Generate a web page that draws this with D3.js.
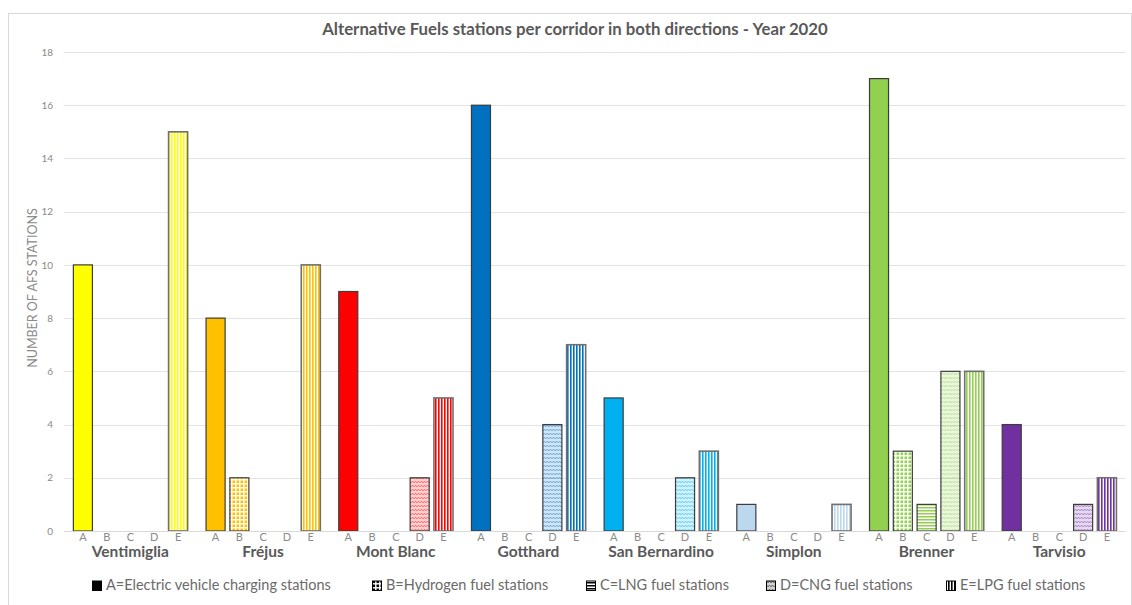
<!DOCTYPE html>
<html><head><meta charset="utf-8">
<script src="https://cdn.jsdelivr.net/npm/d3@7"></script>
<style>body{margin:0;background:#fff}svg{display:block;font-family:Lato,"Open Sans",sans-serif}</style>
</head><body><svg id="c" width="1132" height="605"></svg>
<script>
const corridors = ["Ventimiglia","Fréjus","Mont Blanc","Gotthard","San Bernardino","Simplon","Brenner","Tarvisio"];
const letters = ["A","B","C","D","E"];
const colors = ["#FFFF00","#FFC000","#FF0000","#0070C0","#00B0F0","#BDD7EE","#92D050","#7030A0"];
const valA = [10,8,9,16,5,1,17,4];
const valB = [0,2,0,0,0,0,3,0];
const valC = [0,0,0,0,0,0,1,0];
const valD = [0,0,2,4,2,0,6,1];
const valE = [15,10,5,7,3,1,6,2];
const yTicks = [0,2,4,6,8,10,12,14,16,18];
const legendLabels = ["A=Electric vehicle charging stations","B=Hydrogen fuel stations","C=LNG fuel stations","D=CNG fuel stations","E=LPG fuel stations"];
const title = "Alternative Fuels stations per corridor in both directions - Year 2020";
const yTitle = "NUMBER OF AFS STATIONS";

const svg = d3.select("#c");
const defs = svg.append("defs");

function makePatterns(id, col, light) {
  let p = defs.append("pattern").attr("id", id+"B").attr("patternUnits","userSpaceOnUse").attr("width",4).attr("height",4);
  p.append("rect").attr("width",4).attr("height",4).attr("fill","#fff");
  p.append("rect").attr("x",0.5).attr("y",0.5).attr("width",2.6).attr("height",2.6).attr("fill",col);
  p = defs.append("pattern").attr("id", id+"C").attr("patternUnits","userSpaceOnUse").attr("width",4).attr("height",3);
  p.append("rect").attr("width",4).attr("height",3).attr("fill","#fff");
  p.append("rect").attr("y",0).attr("width",4).attr("height",1.5).attr("fill",col);
  p = defs.append("pattern").attr("id", id+"D").attr("patternUnits","userSpaceOnUse").attr("width",6).attr("height",4);
  p.append("rect").attr("width",6).attr("height",4).attr("fill",col).attr("fill-opacity",light?0.3:0.18);
  p.append("path").attr("d","M0,3 L1.5,1 L3,3 L4.5,1 L6,3").attr("fill","none").attr("stroke",col).attr("stroke-opacity",light?0.9:0.55).attr("stroke-width",0.8);
  p = defs.append("pattern").attr("id", id+"E").attr("patternUnits","userSpaceOnUse").attr("width",3).attr("height",4);
  p.append("rect").attr("width",3).attr("height",4).attr("fill","#fff");
  p.append("rect").attr("x",0).attr("width",1.6).attr("height",4).attr("fill",col);
}
colors.forEach((c,i)=>makePatterns("p"+i, c, i===5 || i===0));
makePatterns("lg", "#000", false);

svg.append("rect").attr("x",8.5).attr("y",13.5).attr("width",1123).attr("height",600)
  .attr("fill","none").attr("stroke","#d9d9d9");

const x0 = d3.scaleBand().domain(corridors).range([64,1125.5]);
const x1 = d3.scaleBand().domain(letters).range([7,126]).paddingInner(0.2).paddingOuter(0.1);
const y = d3.scaleLinear().domain([0,18]).range([531,52]);

svg.append("g").selectAll("line").data(yTicks).join("line")
  .attr("x1",64).attr("x2",1125.5).attr("y1",d=>Math.round(y(d))+0.5).attr("y2",d=>Math.round(y(d))+0.5)
  .attr("stroke","#e3e3e3").attr("stroke-width",1.2);

const yAxis = svg.append("g").attr("transform","translate(64,0)")
  .call(d3.axisLeft(y).tickValues(yTicks).tickSize(0).tickPadding(11));
yAxis.select(".domain").remove();
yAxis.selectAll("text").attr("fill","#8a8a8a").style("font-size","10px").style("font-family","Lato,sans-serif");

svg.append("text").attr("transform","translate(34,288) rotate(-90)").attr("text-anchor","middle")
  .attr("dominant-baseline","middle").attr("fill","#8a8a8a").style("font-size","12.5px").text(yTitle);

const series = [valA,valB,valC,valD,valE];
const rows = [];
corridors.forEach((c,i)=>letters.forEach((l,j)=>rows.push({c,i,l,j,v:series[j][i]})));
const g = svg.append("g");
g.selectAll("rect").data(rows.filter(d=>d.v>0)).join("rect")
  .attr("x",d=>x0(d.c)+x1(d.l)).attr("width",x1.bandwidth())
  .attr("y",d=>y(d.v)).attr("height",d=>y(0)-y(d.v))
  .attr("fill",d=>d.j===0?colors[d.i]:`url(#p${d.i}${d.l})`)
  .attr("stroke",d=>d.j===4?"#707070":"#3c3c3c").attr("stroke-width",d=>d.j===4?1.6:1.2);

svg.append("line").attr("x1",64).attr("x2",1125.5).attr("y1",531.5).attr("y2",531.5).attr("stroke","#d9d9d9");

svg.append("g").selectAll("text").data(rows).join("text")
  .attr("x",d=>x0(d.c)+x1(d.l)+x1.bandwidth()/2).attr("y",538)
  .attr("text-anchor","middle").attr("dominant-baseline","middle")
  .attr("fill","#8a8a8a").style("font-size","11px").text(d=>d.l);

svg.append("g").selectAll("text").data(corridors).join("text")
  .attr("x",d=>x0(d)+x0.bandwidth()/2).attr("y",553)
  .attr("text-anchor","middle").attr("dominant-baseline","middle")
  .attr("fill","#595959").style("font-size","15.5px").style("font-weight","bold").text(d=>d);

svg.append("text").attr("x",575).attr("y",31).attr("text-anchor","middle").attr("dominant-baseline","middle")
  .attr("fill","#595959").style("font-size","16.8px").style("font-weight","bold").text(title);

const legX = [106,386,600,780,960];
const legFill = ["#000","url(#lgB)","url(#lgC)","url(#lgD)","url(#lgE)"];
const lg = svg.append("g");
legendLabels.forEach((t,k)=>{
  lg.append("rect").attr("x",legX[k]-13.5).attr("y",581).attr("width",9).attr("height",9.5)
    .attr("fill",legFill[k]).attr("stroke","#000").attr("stroke-width",1);
  lg.append("text").attr("x",legX[k]).attr("y",586).attr("dominant-baseline","middle")
    .attr("fill","#6a6a6a").style("font-size","14.5px").text(t);
});
</script></body></html>
